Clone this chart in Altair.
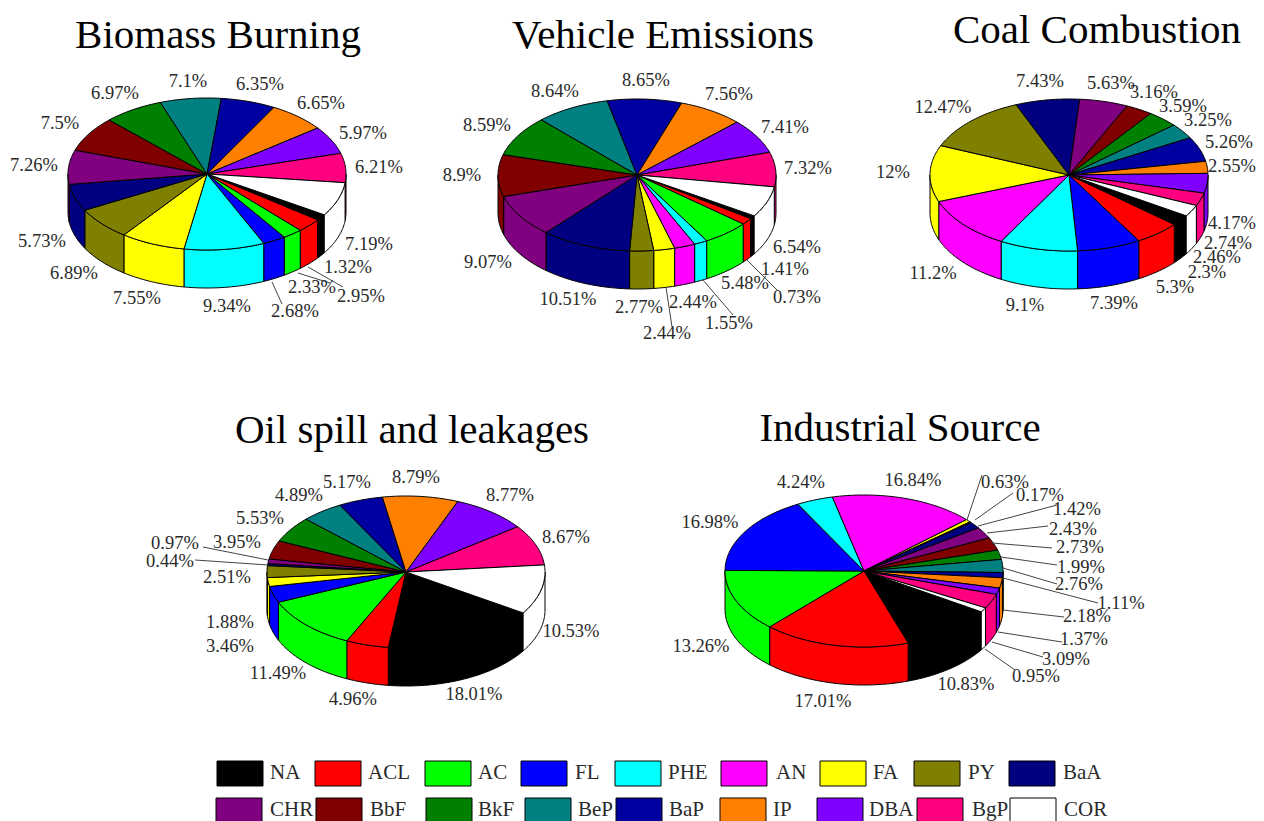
import math
import altair as alt

CATEGORIES = ["NA","ACL","AC","FL","PHE","AN","FA","PY","BaA","CHR","BbF","BkF","BeP","BaP","IP","DBA","BgP","COR"]
COLORS = ["#000000","#ff0000","#00ff00","#0000ff","#00ffff","#ff00ff","#ffff00","#808000","#000080",
          "#800080","#800000","#008000","#008080","#0000a0","#ff8000","#8000ff","#ff0080","#ffffff"]

BIOMASS = [1.32,2.95,2.33,2.68,9.34,0,7.55,6.89,5.73,7.26,7.5,6.97,7.1,6.35,6.65,5.97,6.21,7.19]
VEHICLE = [0.73,1.41,5.48,0,1.55,2.44,2.44,2.77,10.51,9.07,8.9,8.59,8.64,8.65,7.56,7.41,7.32,6.54]
COAL = [2.3,5.3,0,7.39,9.1,11.2,12,12.47,7.43,5.63,3.16,3.59,3.25,5.26,2.55,4.17,2.74,2.46]
OIL = [18.01,4.96,11.49,3.46,0,0,1.88,2.51,0.44,0.97,3.95,5.53,4.89,5.17,8.79,8.77,8.67,10.53]
INDUSTRIAL = [10.83,17.01,13.26,16.98,4.24,16.84,0.63,0.17,1.42,2.43,2.73,1.99,2.76,1.11,2.18,1.37,3.09,0.95]

# layout (page pixels): label anchor for each slice, in category order
BIOMASS_POS = [(348,267),(361,296),(312,287),(295,311),(227,306),None,(137,298),(74,273),(42,241),(34,165),(60,123),(115,93),(188,81),(260,84),(321,103),(363,133),(379,167),(369,244)]
VEHICLE_POS = [(797,297),(785,269),(745,283),None,(729,323),(693,302),(667,333),(639,307),(568,299),(488,262),(462,175),(487,125),(555,91),(646,80),(729,94),(785,127),(808,168),(797,247)]
COAL_POS = [(1207,272),(1175,287),None,(1114,303),(1025,305),(933,273),(893,172),(943,107),(1040,81),(1111,83),(1154,92),(1183,106),(1208,120),(1229,142),(1232,166),(1232,223),(1228,243),(1217,257)]
OIL_POS = [(474,694),(353,699),(278,673),(230,646),None,None,(230,622),(227,577),(170,561),(175,543),(237,542),(260,518),(299,495),(347,482),(416,477),(510,495),(566,537),(571,631)]
INDUSTRIAL_POS = [(966,684),(823,701),(701,646),(710,522),(801,482),(913,480),(1005,482),(1040,495),(1077,509),(1073,529),(1080,547),(1081,567),(1079,584),(1121,603),(1087,616),(1084,639),(1066,659),(1036,676)]

PANELS = [
    ("Biomass Burning", BIOMASS, BIOMASS_POS, (207,174), (218,36)),
    ("Vehicle Emissions", VEHICLE, VEHICLE_POS, (637,175), (663,36)),
    ("Coal Combustion", COAL, COAL_POS, (1069,175), (1097,31)),
    ("Oil spill and leakages", OIL, OIL_POS, (406,572), (412,431)),
    ("Industrial Source", INDUSTRIAL, INDUSTRIAL_POS, (864,571), (900,429)),
]
LEADERS = [
    ((308,267),(343,287)), ((298,273),(330,283)), ((272,282),(282,304)),
    ((747,260),(777,290)), ((703,280),(733,315)), ((666,287),(672,327)),
    ((203,547),(268,560)), ((195,560),(268,565)),
    ((967,520),(982,475)), ((975,520),(1013,493)), ((978,526),(1057,505)), ((987,533),(1048,526)),
    ((992,543),(1052,548)), ((1001,557),(1057,565)), ((1003,568),(1057,584)), ((1003,578),(1098,603)),
    ((1003,610),(1064,617)), ((998,632),(1062,642)), ((992,642),(1043,657)), ((985,649),(1015,670)),
]
LEGEND_SWATCH = [217,315,425,521,615,721,820,914,1009, 216,316,426,525,616,720,817,917,1010]
LEGEND_LABEL = [270,368,478,575,668,776,873,968,1063, 270,370,478,578,669,773,869,972,1064]
LEGEND_ROWS = [(761,786,773),(798,823,810)]
RX, RY, DEPTH, START = 139, 76, 38, 32.5

def arc(cx, cy, a0, a1):
    n = max(2, int(abs(a1 - a0)) + 2)
    return [[cx + RX * math.cos(math.radians(a0 + (a1 - a0) * i / (n - 1))),
             cy + RY * math.sin(math.radians(a0 + (a1 - a0) * i / (n - 1)))] for i in range(n)]

def poly(cat, ring):
    return {"type": "Feature", "properties": {"cat": cat},
            "geometry": {"type": "Polygon", "coordinates": [ring + [ring[0]]]}}

walls, tops, labels = [], [], []
for title, vals, pos, (cx, cy), (tx, ty) in PANELS:
    a = START
    for cat, v, p in zip(CATEGORIES, vals, pos):
        if v <= 0:
            continue
        b = a + v * 3.6
        for lo, hi in ((0, 180), (360, 540)):
            s, e = max(a, lo), min(b, hi)
            if e > s:
                top = arc(cx, cy, s, e)
                walls.append(poly(cat, top + [[x, y + DEPTH] for x, y in reversed(top)]))
        tops.append(poly(cat, [[cx, cy]] + arc(cx, cy, a, b)))
        labels.append({"x": p[0], "y": p[1], "t": f"{v:g}%"})
        a = b

leaders = [{"type": "Feature", "properties": {},
            "geometry": {"type": "LineString", "coordinates": [list(p), list(q)]}} for p, q in LEADERS]
swatches, legend_text = [], []
for i, cat in enumerate(CATEGORIES):
    y0, y1, yc = LEGEND_ROWS[i // 9]
    x = LEGEND_SWATCH[i]
    swatches.append(poly(cat, [[x, y0], [x + 46, y0], [x + 46, y1], [x, y1]]))
    legend_text.append({"x": LEGEND_LABEL[i], "y": yc, "t": cat})
titles = [{"x": p[4][0], "y": p[4][1], "t": p[0]} for p in PANELS]

PROJ = dict(type="identity", scale=1, translate=[-8, -8])
color = alt.Color("properties.cat:N", scale=alt.Scale(domain=CATEGORIES, range=COLORS), legend=None)

def shapes(features):
    return alt.Chart(alt.Data(values=features)).mark_geoshape(stroke="#000000", strokeWidth=1).encode(color=color).project(**PROJ)

def texts(rows, size, align="center", col="#2a2a2a"):
    return alt.Chart(alt.Data(values=rows)).mark_text(
        font="Liberation Serif", fontSize=size, align=align, baseline="middle", color=col
    ).encode(longitude="x:Q", latitude="y:Q", text="t:N").project(**PROJ)

leader_layer = alt.Chart(alt.Data(values=leaders)).mark_geoshape(
    filled=False, stroke="#444444", strokeWidth=1).project(**PROJ)

chart = alt.layer(
    shapes(walls), shapes(tops), leader_layer,
    texts(labels, 18.5), texts(titles, 41, col="#000000"),
    shapes(swatches), texts(legend_text, 21, align="left"),
).properties(width=1248, height=813, padding=0, autosize=alt.AutoSizeParams(type="none")
).configure_view(stroke=None)

chart.save("out.html", embed_options={"renderer": "svg", "actions": False})
